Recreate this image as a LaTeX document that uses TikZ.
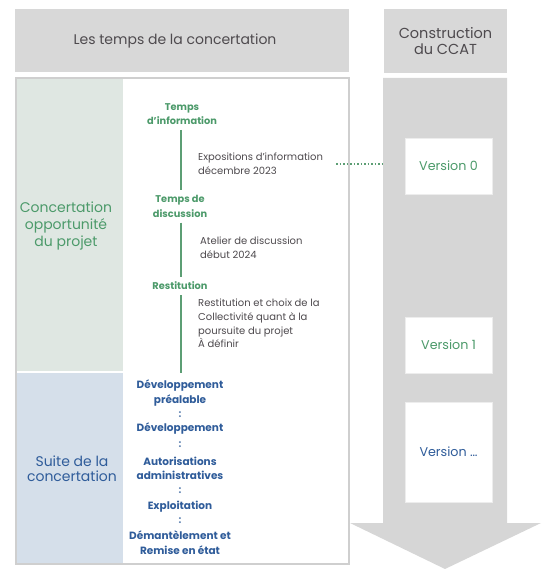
\documentclass[tikz,border=0pt]{standalone}
\usepackage{fontspec}
\setmainfont{Poppins}
\usetikzlibrary{positioning}
\definecolor{hdgray}{HTML}{D8D8D8}
\definecolor{arrgray}{HTML}{D6D6D6}
\definecolor{framegray}{HTML}{CFCFCF}
\definecolor{greenpan}{HTML}{DFE7E2}
\definecolor{bluepan}{HTML}{D5DFEA}
\definecolor{grtext}{HTML}{4C9A6A}
\definecolor{grline}{HTML}{5C9E74}
\definecolor{bltext}{HTML}{2F5C9A}
\definecolor{dktext}{HTML}{4E4A4E}
\tikzset{
 headtxt/.style={font=\fontsize{14}{16}\selectfont,text=dktext,align=center},
 sidetxt/.style={font=\fontsize{14}{17}\selectfont,align=center},
 gstep/.style={font=\bfseries\fontsize{9.8}{14.5}\selectfont,text=grtext,align=center,inner sep=1pt},
 desc/.style={font=\fontsize{10}{13.7}\selectfont,text=dktext,align=left,anchor=west,inner sep=1pt},
 bstep/.style={font=\bfseries\fontsize{10.5}{14.5}\selectfont,text=bltext,align=center,inner sep=1pt},
 verbox/.style={fill=white,draw=white!93!black,line width=.6pt,minimum width=87,font=\fontsize{12.7}{14}\selectfont},
 tline/.style={grline,line width=2pt,shorten <=4pt,shorten >=4pt},
}
\begin{document}
\begin{tikzpicture}[x=1pt,y=-1pt]
\useasboundingbox (0,0) rectangle (546,569);
\fill[hdgray] (15,9) rectangle (349,72);
\node[headtxt] (titre) at (175,41) {Les temps de la concertation};
\draw[framegray,line width=2pt,fill=white] (16,78) rectangle (349,564);
\fill[greenpan] (17,79) rectangle (123,371);
\fill[bluepan] (17,373) rectangle (123,563);
\node[sidetxt,text=grtext] (concert) at (66,226) {Concertation\\opportunité\\du projet};
\node[sidetxt,text=bltext,font=\fontsize{14}{15.5}\selectfont] (suite) at (72,468.5) {Suite de la\\concertation};
\fill[arrgray] (383,78) -- (507,78) -- (507,523) -- (541,523) -- (445,569) -- (350,523) -- (383,523) -- cycle;
\fill[hdgray] (384,9) rectangle (507,73);
\node[headtxt,font=\fontsize{14.5}{16}\selectfont] (ccat) at (445.5,41) {Construction\\du CCAT};
\node[verbox,minimum height=56,text=grtext] (v0) at (448.5,166) {Version 0};
\node[verbox,minimum height=56,text=grtext] (v1) at (448.5,345) {Version 1};
\node[verbox,minimum height=100,text=bltext] (vn) at (448.5,452) {Version \dots};
\coordinate (tl) at (181,0);
\coordinate (arrl) at (383,0);
\coordinate (tend) at (181,373);
\node[gstep] (tinfo) at (182,114) {Temps\\d’information};
\node[gstep] (tdisc) at (180,206.5) {Temps de\\discussion};
\node[gstep] (trest) at (180,286) {Restitution};
\node[desc] (expo) at (197,164) {Expositions d’information\\décembre 2023};
\node[desc] (atel) at (199,248) {Atelier de discussion\\début 2024};
\node[desc] (restd) at (197,323.5) {Restitution et choix de la\\Collectivité quant à la\\poursuite du projet\\À définir};
\draw[tline] (tinfo.south -| tl) -- (tdisc.north -| tl);
\draw[tline] (tdisc.south -| tl) -- (trest.north -| tl);
\draw[tline,shorten >=0pt] (trest.south -| tl) -- (tend);
\draw[grline,line width=1.5pt,dotted,shorten <=12pt] (expo.east) -- (expo.east -| arrl);
\foreach \y/\lab in {393/{Développement\\préalable},429/Développement,468.5/{Autorisations\\administratives},507/Exploitation,542.5/{Démantèlement et\\Remise en état}}{
 \node[bstep] at (180,\y) {\lab};
}
\foreach \y in {415,445,491,521}{
 \node[bstep,font=\bfseries\fontsize{10}{11}\selectfont,text=bltext!75] at (180,\y) {:};
}
\end{tikzpicture}
\end{document}
